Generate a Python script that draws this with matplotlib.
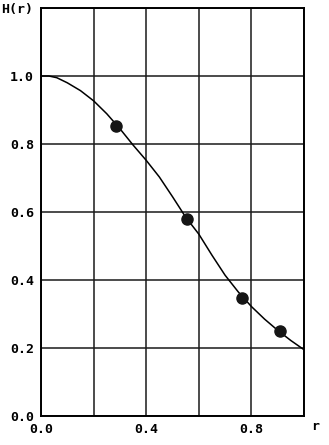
import numpy as np
import matplotlib.pyplot as plt

# curve
r_curve = [0.0, 0.03, 0.06, 0.1, 0.15, 0.2, 0.25, 0.3, 0.35, 0.4, 0.45,
           0.5, 0.55, 0.6, 0.65, 0.7, 0.75, 0.8, 0.85, 0.9, 0.95, 1.0]
h_curve = [1.0, 1.0, 0.995, 0.98, 0.957, 0.927, 0.889, 0.845, 0.797, 0.752, 0.703,
           0.645, 0.585, 0.535, 0.473, 0.414, 0.365, 0.322, 0.285, 0.252, 0.222, 0.195]

# measured points
r_pts = [0.284, 0.554, 0.765, 0.909]
h_pts = [0.854, 0.578, 0.347, 0.249]

x_grid = [0.0, 0.2, 0.4, 0.6, 0.8, 1.0]
y_grid = [0.0, 0.2, 0.4, 0.6, 0.8, 1.0, 1.2]
x_labels = {0.0: '0.0', 0.4: '0.4', 0.8: '0.8'}
y_labels = ['0.0', '0.2', '0.4', '0.6', '0.8', '1.0']

fig = plt.figure(figsize=(3.29, 4.45), dpi=100)
ax = fig.add_axes([41 / 329, 29 / 445, 263 / 329, 408 / 445])
ax.set_xlim(0, 1.0)
ax.set_ylim(0, 1.2)

for x in x_grid:
    ax.axvline(x, color='#1a1a1a', lw=1.1, zorder=1)
for y in y_grid:
    ax.axhline(y, color='#1a1a1a', lw=1.1, zorder=1)

ax.plot(r_curve, h_curve, color='black', lw=1.1, zorder=2)
ax.plot(r_pts, h_pts, 'o', color='#151515', ms=8, zorder=3)

for s in ax.spines.values():
    s.set_linewidth(1.4)

font = dict(family='DejaVu Sans Mono', weight='bold', size=9.5)
ax.set_xticks(list(x_labels.keys()))
ax.set_xticklabels(list(x_labels.values()), fontdict=font)
ax.set_yticks([0.0, 0.2, 0.4, 0.6, 0.8, 1.0])
ax.set_yticklabels(y_labels, fontdict=font)
ax.tick_params(length=0, pad=5)

fig.text(1 / 329, 436 / 445, 'H(r)', ha='left', va='center', **font)
fig.text(315 / 329, 18 / 445, 'r', ha='center', va='center', **font)

fig.savefig('out.png', dpi=100)
